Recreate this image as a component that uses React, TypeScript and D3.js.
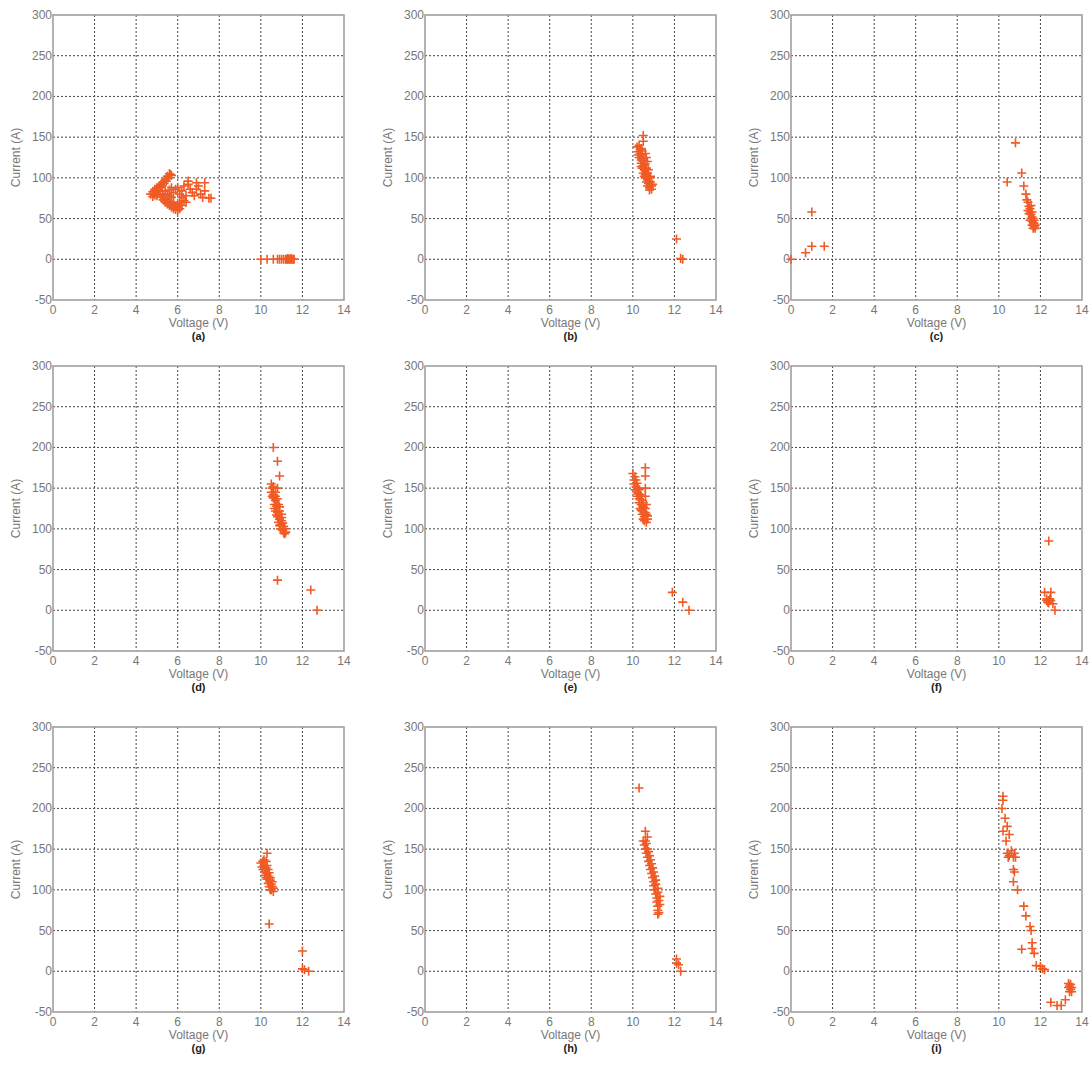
import React from 'react';
import * as d3 from 'd3';

// x ticks / y ticks shared by every panel
const voltTicks = [0, 2, 4, 6, 8, 10, 12, 14];
const currTicks = [-50, 0, 50, 100, 150, 200, 250, 300];

const panelLabels = ['(a)', '(b)', '(c)', '(d)', '(e)', '(f)', '(g)', '(h)', '(i)'];

// [voltage, current]
const dataA: number[][] = [
  [4.7, 80], [4.8, 83], [4.9, 86], [5.0, 88], [5.0, 78], [5.1, 90], [5.2, 92], [5.3, 95], [5.4, 98],
  [5.5, 102], [5.6, 105], [5.7, 103], [5.2, 76], [5.3, 73], [5.4, 70], [5.5, 68], [5.6, 66], [5.7, 64],
  [5.8, 62], [5.9, 61], [6.0, 60], [6.1, 62], [5.4, 84], [5.5, 80], [5.6, 78], [5.7, 76], [5.8, 82],
  [5.9, 86], [6.0, 88], [6.1, 80], [6.2, 76], [6.3, 72], [6.4, 70], [6.2, 84], [6.3, 90], [6.5, 92],
  [6.6, 86], [6.7, 82], [6.8, 78], [6.9, 86], [7.0, 90], [7.1, 80], [7.2, 76], [7.3, 84], [7.5, 75],
  [7.6, 75], [6.5, 96], [6.9, 94], [7.3, 94], [5.0, 82], [4.9, 79], [5.1, 84], [5.8, 70], [6.0, 68],
  [6.4, 78], [4.8, 77], [5.3, 80], [4.85, 81], [4.95, 84], [5.05, 86], [5.15, 88], [5.25, 90],
  [5.35, 93], [5.45, 96], [5.55, 100], [5.65, 104], [5.3, 78], [5.4, 75], [5.5, 73], [5.6, 71],
  [5.7, 69], [5.8, 67], [5.9, 65], [6.0, 64], [5.6, 85], [5.7, 88], [6.1, 70], [6.2, 66],
  [10.0, 0], [10.3, 0], [10.6, 0], [10.8, 0], [10.9, 0], [11.0, 0], [11.1, 0], [11.2, 0], [11.25, 0],
  [11.3, 0], [11.35, 0], [11.4, 0], [11.45, 0], [11.5, 0], [11.55, 0], [11.6, 0], [11.3, 1], [11.45, 1],
];

const dataB: number[][] = [
  [10.2, 138], [10.3, 140], [10.4, 136], [10.25, 132], [10.35, 130], [10.45, 128], [10.3, 125],
  [10.4, 122], [10.5, 124], [10.4, 118], [10.5, 115], [10.6, 117], [10.45, 112], [10.55, 110],
  [10.65, 112], [10.5, 106], [10.6, 104], [10.7, 106], [10.6, 100], [10.7, 98], [10.8, 100],
  [10.65, 95], [10.75, 93], [10.85, 95], [10.7, 90], [10.8, 88], [10.9, 90], [10.8, 85], [10.9, 86],
  [10.5, 145], [10.6, 130], [10.7, 120], [10.35, 135], [10.55, 120], [10.25, 128], [10.45, 133],
  [10.65, 125], [10.75, 110], [10.85, 102], [10.95, 92], [10.55, 102], [10.4, 114],
  [10.5, 152], [12.1, 25], [12.3, 1], [12.4, 0],
];

const dataC: number[][] = [
  [0.0, 0], [0.7, 8], [1.0, 58], [1.0, 16], [1.6, 16],
  [10.4, 95], [10.8, 143], [11.1, 106], [11.2, 90], [11.3, 80], [11.35, 73],
  [11.4, 70], [11.45, 65], [11.5, 62], [11.5, 58], [11.55, 55], [11.6, 52], [11.55, 50], [11.6, 47],
  [11.65, 45], [11.6, 42], [11.7, 40], [11.65, 38], [11.7, 44], [11.75, 42], [11.5, 48], [11.45, 56],
  [11.4, 60], [11.55, 66], [11.65, 50], [11.7, 48], [11.6, 58], [11.75, 38],
];

const dataD: number[][] = [
  [10.5, 155], [10.55, 150], [10.6, 152], [10.5, 145], [10.6, 142], [10.7, 145], [10.6, 138],
  [10.7, 135], [10.8, 137], [10.65, 130], [10.75, 128], [10.85, 130], [10.7, 122], [10.8, 120],
  [10.9, 122], [10.8, 115], [10.9, 112], [11.0, 114], [10.85, 108], [10.95, 105], [11.05, 107],
  [10.95, 100], [11.05, 98], [11.15, 100], [11.1, 95], [11.2, 96], [10.8, 150], [10.7, 140],
  [10.55, 140], [10.65, 125], [10.75, 117], [10.9, 104], [11.0, 110], [11.1, 103], [10.9, 127],
  [11.0, 118], [11.15, 94],
  [10.6, 200], [10.8, 183], [10.9, 165], [10.8, 37], [12.4, 25], [12.7, 0],
];

const dataE: number[][] = [
  [10.0, 168], [10.05, 160], [10.1, 164], [10.05, 155], [10.15, 152], [10.2, 156], [10.1, 148],
  [10.2, 145], [10.3, 148], [10.2, 140], [10.3, 137], [10.4, 140], [10.3, 132], [10.4, 130],
  [10.5, 132], [10.35, 125], [10.45, 122], [10.55, 125], [10.45, 118], [10.55, 115], [10.65, 118],
  [10.55, 110], [10.65, 108], [10.7, 112], [10.6, 125], [10.6, 140], [10.65, 130],
  [10.15, 160], [10.25, 150], [10.35, 142], [10.45, 135], [10.5, 127], [10.6, 120], [10.7, 116],
  [10.25, 143], [10.4, 123], [10.5, 112],
  [10.6, 175], [10.6, 165], [10.6, 150], [11.9, 22], [12.4, 10], [12.7, 0],
];

const dataF: number[][] = [
  [12.4, 85], [12.2, 22], [12.5, 22], [12.6, 8], [12.7, 0],
  [12.3, 12], [12.4, 12], [12.35, 10], [12.45, 14], [12.3, 14], [12.4, 9], [12.5, 12],
];

const dataG: number[][] = [
  [10.0, 133], [10.05, 128], [10.1, 135], [10.1, 125], [10.15, 130], [10.2, 122], [10.25, 127],
  [10.2, 118], [10.3, 120], [10.3, 113], [10.35, 117], [10.35, 108], [10.45, 112], [10.4, 104],
  [10.5, 107], [10.5, 100], [10.55, 104], [10.6, 98], [10.6, 102], [10.25, 135], [10.35, 125],
  [10.15, 137], [10.3, 130], [10.4, 121], [10.45, 115], [10.55, 110], [10.25, 115], [10.45, 100],
  [10.3, 145], [10.4, 58], [12.0, 25], [12.0, 3], [12.1, 2], [12.3, 0],
];

const dataH: number[][] = [
  [10.5, 160], [10.55, 155], [10.6, 150], [10.65, 157], [10.65, 145], [10.7, 140], [10.75, 147],
  [10.75, 135], [10.8, 130], [10.85, 137], [10.85, 125], [10.9, 120], [10.95, 127], [10.95, 115],
  [11.0, 110], [11.05, 117], [11.0, 105], [11.05, 100], [11.1, 107], [11.1, 95], [11.15, 90],
  [11.2, 97], [11.15, 85], [11.2, 80], [11.25, 87], [11.2, 75], [11.25, 72], [10.7, 165],
  [10.6, 160], [10.7, 150], [10.8, 142], [10.9, 132], [11.0, 122], [11.1, 112], [11.2, 102],
  [11.3, 82], [11.3, 92], [11.2, 70],
  [10.3, 225], [10.6, 172], [12.1, 15], [12.2, 8], [12.3, 0], [12.1, 10],
];

const dataI: number[][] = [
  [10.2, 215], [10.2, 210], [10.15, 200], [10.3, 188], [10.4, 178], [10.2, 172], [10.5, 168],
  [10.35, 160], [10.4, 145], [10.5, 142], [10.6, 148], [10.7, 140], [10.75, 145], [10.8, 140],
  [10.7, 125], [10.75, 122], [10.7, 110], [10.9, 100], [11.2, 80], [11.3, 68], [11.5, 55],
  [11.55, 50], [11.1, 27], [11.6, 35], [11.6, 28], [11.7, 22], [11.8, 7], [12.0, 6], [12.1, 3],
  [12.2, 2], [12.5, -38], [12.8, -42], [13.0, -42], [13.2, -35], [13.35, -20], [13.4, -18],
  [13.45, -22], [13.4, -25], [13.5, -20], [13.35, -15], [13.45, -16], [13.5, -25], [10.45, 140],
];

const allData = [dataA, dataB, dataC, dataD, dataE, dataF, dataG, dataH, dataI];

const colLefts = [53, 425, 791];
const rowTops = [15, 366, 727];
const plotW = 291;
const plotH = 285;
const markerColor = '#f05a24';
const font = 'Arial, "Liberation Sans", sans-serif';

const Panel = ({ data, label, left, top }: { data: number[][]; label: string; left: number; top: number }) => {
  const x = d3.scaleLinear().domain([0, 14]).range([0, plotW]);
  const y = d3.scaleLinear().domain([-50, 300]).range([plotH, 0]);
  const s = 4.5;
  return (
    <g transform={`translate(${left},${top})`}>
      {voltTicks.slice(1, -1).map(t => (
        <line key={'gx' + t} x1={x(t)} x2={x(t)} y1={0} y2={plotH}
          stroke="#444" strokeWidth={1} strokeDasharray="2,2" />
      ))}
      {currTicks.slice(1, -1).map(t => (
        <line key={'gy' + t} x1={0} x2={plotW} y1={y(t)} y2={y(t)}
          stroke="#444" strokeWidth={1} strokeDasharray="2,2" />
      ))}
      <rect x={0} y={0} width={plotW} height={plotH} fill="none" stroke="#999" strokeWidth={1.5} />
      {data.map((d, i) => (
        <path key={i}
          d={`M${x(d[0]) - s},${y(d[1])}h${2 * s}M${x(d[0])},${y(d[1]) - s}v${2 * s}`}
          stroke={markerColor} strokeWidth={1.6} fill="none" />
      ))}
      {voltTicks.map(t => (
        <text key={'tx' + t} x={x(t)} y={plotH + 14} textAnchor="middle"
          fontSize={12} fill="#777" fontFamily={font}>{t}</text>
      ))}
      {currTicks.map(t => (
        <text key={'ty' + t} x={-1} y={y(t) + 4} textAnchor="end"
          fontSize={12} fill="#777" fontFamily={font}>{t}</text>
      ))}
      <text x={plotW / 2} y={plotH + 27} textAnchor="middle" fontSize={12} fill="#777" fontFamily={font}>
        Voltage (V)
      </text>
      <text transform={`translate(${-33},${plotH / 2}) rotate(-90)`} textAnchor="middle"
        fontSize={12} fill="#777" fontFamily={font}>
        Current (A)
      </text>
      <text x={plotW / 2} y={plotH + 40} textAnchor="middle" fontSize={11} fontWeight="bold"
        fill="#222" fontFamily={font}>
        {label}
      </text>
    </g>
  );
};

export default function App() {
  return (
    <svg width={1089} height={1068} style={{ position: 'absolute', left: 0, top: 0, background: '#fff' }}>
      {allData.map((d, i) => (
        <Panel key={i} data={d} label={panelLabels[i]}
          left={colLefts[i % 3]} top={rowTops[Math.floor(i / 3)]} />
      ))}
    </svg>
  );
}
